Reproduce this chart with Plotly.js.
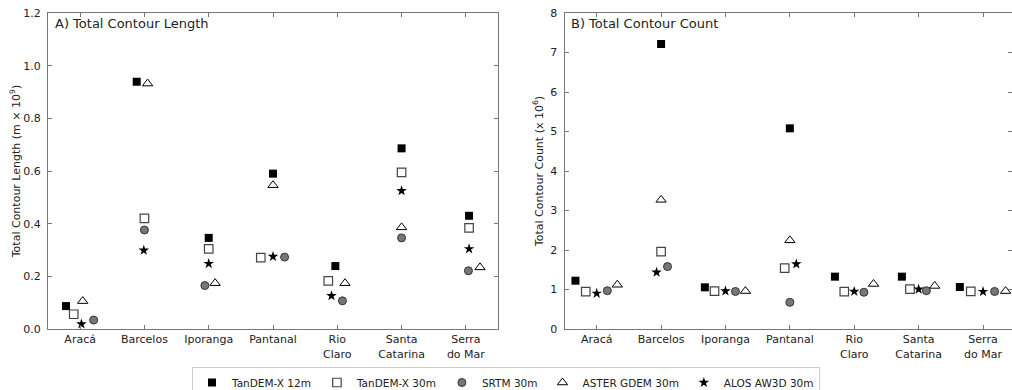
<!DOCTYPE html>
<html>
<head>
<meta charset="utf-8">
<script src="https://cdn.plot.ly/plotly-3.0.1.min.js"></script>
<style>
  html, body { margin: 0; padding: 0; background: #fff; }
  #chart { width: 1012px; height: 390px; }
</style>
</head>
<body>
<div id="chart"></div>
<script>
// Categories (study sites)
const sites = ["Aracá", "Barcelos", "Iporanga", "Pantanal", "Rio Claro", "Santa Catarina", "Serra do Mar"];
const siteLabels = ["Aracá", "Barcelos", "Iporanga", "Pantanal", "Rio<br>Claro", "Santa<br>Catarina", "Serra<br>do Mar"];
const seriesNames = ["TanDEM-X 12m", "TanDEM-X 30m", "SRTM 30m", "ASTER GDEM 30m", "ALOS AW3D 30m"];

// A) Total contour length (m x 10^9)
const lenTDX12 = [0.087, 0.939, 0.346, 0.590, 0.239, 0.686, 0.430];
const lenTDX30 = [0.056, 0.420, 0.304, 0.271, 0.183, 0.595, 0.384];
const lenSRTM  = [0.034, 0.376, 0.165, 0.273, 0.107, 0.346, 0.221];
const lenASTER = [0.106, 0.932, 0.174, 0.546, 0.174, 0.386, 0.234];
const lenALOS  = [0.019, 0.299, 0.248, 0.275, 0.126, 0.525, 0.304];

// B) Total contour count (x 10^6)
const cntTDX12 = [1.223, 7.215, 1.055, 5.080, 1.325, 1.325, 1.063];
const cntTDX30 = [0.945, 1.960, 0.960, 1.540, 0.945, 1.010, 0.955];
const cntSRTM  = [0.970, 1.580, 0.950, 0.675, 0.930, 0.970, 0.950];
const cntASTER = [1.120, 3.270, 0.960, 2.245, 1.140, 1.090, 0.960];
const cntALOS  = [0.900, 1.435, 0.960, 1.645, 0.950, 1.005, 0.945];

// Horizontal jitter (layout only, in category units)
const jitterA = [
  [-0.22, -0.12, 0.00, 0.00, -0.03, 0.00, 0.05],
  [-0.10, 0.00, 0.00, -0.19, -0.14, 0.00, 0.05],
  [0.21, 0.00, -0.06, 0.18, 0.08, 0.00, 0.04],
  [0.04, 0.05, 0.10, 0.00, 0.12, 0.00, 0.22],
  [0.02, -0.01, 0.00, 0.00, -0.09, 0.00, 0.05]
];
const jitterB = [
  [-0.33, 0.00, -0.32, 0.00, -0.30, -0.26, -0.36],
  [-0.17, 0.00, -0.17, -0.08, -0.155, -0.135, -0.19],
  [0.165, 0.10, 0.155, 0.00, 0.15, 0.12, 0.18],
  [0.32, 0.00, 0.31, 0.00, 0.30, 0.25, 0.35],
  [0.00, -0.07, 0.00, 0.10, 0.00, 0.00, 0.00]
];

const styles = [
  {symbol: "square", size: 8, color: "#000", line: {width: 0}},
  {symbol: "square", size: 8.5, color: "#fff", line: {color: "#444", width: 1.2}},
  {symbol: "circle", size: 8, color: "#777", line: {color: "#333", width: 1}},
  {symbol: "triangle-up", size: 9, color: "#fff", line: {color: "#000", width: 1}},
  {symbol: "star", size: 8, color: "#000", line: {width: 0}}
];

const lenSeries = [lenTDX12, lenTDX30, lenSRTM, lenASTER, lenALOS];
const cntSeries = [cntTDX12, cntTDX30, cntSRTM, cntASTER, cntALOS];

const traces = [];
seriesNames.forEach((name, s) => {
  traces.push({
    type: "scatter", mode: "markers", name: name, legendgroup: name,
    x: sites.map((_, i) => i + jitterA[s][i]), y: lenSeries[s],
    xaxis: "x", yaxis: "y", marker: styles[s], showlegend: true, cliponaxis: false,
    hovertext: sites
  });
});
seriesNames.forEach((name, s) => {
  traces.push({
    type: "scatter", mode: "markers", name: name, legendgroup: name,
    x: sites.map((_, i) => i + jitterB[s][i]), y: cntSeries[s],
    xaxis: "x2", yaxis: "y2", marker: styles[s], showlegend: false, cliponaxis: false,
    hovertext: sites
  });
});

const font = {family: "DejaVu Sans, sans-serif", size: 11, color: "#222"};
const axisCommon = {
  showline: true, linecolor: "#777", linewidth: 1, mirror: "ticks",
  ticks: "inside", ticklen: 4, tickcolor: "#777", tickwidth: 1,
  showgrid: false, zeroline: false, tickfont: font
};
const W = 1012;

const layout = {
  width: 1012, height: 390,
  margin: {l: 0, r: 0, t: 13, b: 61},
  paper_bgcolor: "#fff", plot_bgcolor: "#fff",
  font: font,
  showlegend: true,
  xaxis: Object.assign({}, axisCommon, {
    domain: [48 / W, 498 / W], range: [-0.5, 6.5],
    tickvals: sites.map((_, i) => i), ticktext: siteLabels, anchor: "y"
  }),
  yaxis: Object.assign({}, axisCommon, {
    domain: [0, 1], range: [0, 1.2], tickvals: [0, 0.2, 0.4, 0.6, 0.8, 1.0, 1.2],
    tickformat: ".1f", anchor: "x", ticklabelstandoff: 4,
    title: {text: "Total Contour Length (m × 10<sup>9</sup>)", font: font, standoff: 0}
  }),
  xaxis2: Object.assign({}, axisCommon, {
    domain: [564.5 / W, 1], range: [-0.5, 6.45], mirror: "ticks",
    tickvals: sites.map((_, i) => i), ticktext: siteLabels, anchor: "y2"
  }),
  yaxis2: Object.assign({}, axisCommon, {
    domain: [0, 1], range: [0, 8], tickvals: [0, 1, 2, 3, 4, 5, 6, 7, 8],
    anchor: "x2", ticklabelstandoff: 4,
    title: {text: "Total Contour Count (x 10<sup>6</sup>)", font: font, standoff: 4}
  }),
  legend: {
    orientation: "h", x: 0.5, xanchor: "center", xref: "paper",
    yref: "container", y: 23 / 390, yanchor: "top",
    bordercolor: "#ccc", borderwidth: 1, bgcolor: "#fff",
    font: {family: "DejaVu Sans, sans-serif", size: 10.5, color: "#222"}, itemwidth: 30
  },
  annotations: [
    {text: "A) Total Contour Length", xref: "x domain", yref: "y domain", x: 0.011, y: 0.967,
     xanchor: "left", yanchor: "middle", showarrow: false,
     font: {family: "DejaVu Sans, sans-serif", size: 13, color: "#222"}},
    {text: "B) Total Contour Count", xref: "x2 domain", yref: "y2 domain", x: 0.011, y: 0.967,
     xanchor: "left", yanchor: "middle", showarrow: false,
     font: {family: "DejaVu Sans, sans-serif", size: 13, color: "#222"}}
  ]
};

Plotly.newPlot("chart", traces, layout, {displayModeBar: false, staticPlot: true});
</script>
</body>
</html>
